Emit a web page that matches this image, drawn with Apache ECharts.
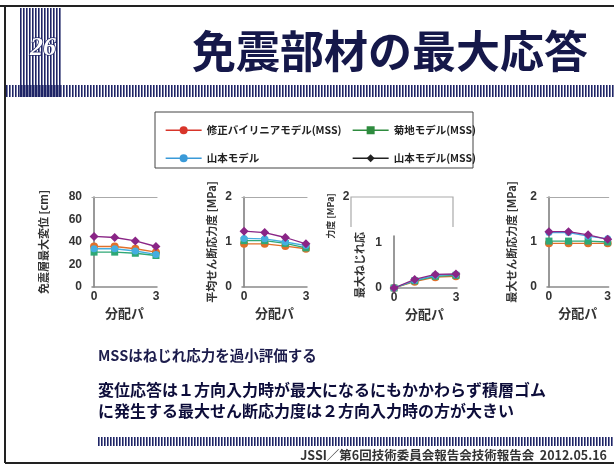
<!DOCTYPE html>
<html><head><meta charset="utf-8">
<script src="https://cdn.jsdelivr.net/npm/echarts@6/dist/echarts.min.js"></script>
<style>html,body{margin:0;padding:0;background:#fff}#c{width:614px;height:465px}</style>
</head><body><div id="c"></div>
<script>
// ---------- data ----------
const xValues = [0, 1, 2, 3];
const xTickLabels = [0, 3];
const seriesNames = ['修正バイリニアモデル(MSS)', '菊地モデル(MSS)', '山本モデル', '山本モデル(MSS)'];

// chart 1 : 免震層最大変位 [cm]
const disp_bilinearMSS = [36, 36, 34, 31];
const disp_kikuchiMSS  = [31, 31, 30, 28];
const disp_yamamoto    = [34, 34, 32, 29];
const disp_yamamotoMSS = [45, 44, 41, 36];
const disp_yTicks = [0, 20, 40, 60, 80];

// chart 2 : 平均せん断応力度 [MPa]
const avg_bilinearMSS = [0.96, 0.96, 0.91, 0.85];
const avg_kikuchiMSS  = [1.03, 1.03, 0.97, 0.87];
const avg_yamamoto    = [1.08, 1.07, 1.00, 0.92];
const avg_yamamotoMSS = [1.24, 1.21, 1.10, 0.96];
const avg_yTicks = [0, 1, 2];

// chart 3 : ねじれ応力度 [MPa]
const tor_bilinearMSS = [0, 0.14, 0.24, 0.26];
const tor_kikuchiMSS  = [0, 0.16, 0.26, 0.28];
const tor_yamamoto    = [0, 0.17, 0.28, 0.30];
const tor_yamamotoMSS = [0, 0.19, 0.30, 0.31];
const tor_yTicks = [0, 1];

// chart 4 : 最大せん断応力度 [MPa]
const max_bilinearMSS = [0.97, 0.97, 0.97, 0.97];
const max_kikuchiMSS  = [1.02, 1.02, 1.02, 1.00];
const max_yamamoto    = [1.21, 1.21, 1.13, 1.07];
const max_yamamotoMSS = [1.23, 1.23, 1.16, 1.06];
const max_yTicks = [0, 1, 2];

const yNames = ['免震層最大変位 [cm]', '平均せん断応力度 [MPa]', '', '最大せん断応力度 [MPa]'];
const xName = '分配パ';

// ---------- style ----------
const FONT = '"Liberation Sans","Noto Sans CJK JP",sans-serif';
const CJK = '"Noto Sans CJK JP","Liberation Sans",sans-serif';
const plotColors = ['#e0702a', '#2fa876', '#45aee0', '#8a2586'];
const legendColors = ['#d8352a', '#2e8b3e', '#3a9ad8', '#222222'];
const symbols = ['circle', 'rect', 'circle', 'diamond'];
const symbolSizes = [8, 7, 7, 9];

const grids = [
  {left: 92, top: 197, width: 65, height: 90},
  {left: 242, top: 197, width: 65, height: 90},
  {left: 392, top: 236, width: 65, height: 52},
  {left: 547, top: 197, width: 65, height: 90}
];
const yRanges = [
  {min: 0, max: 80, interval: 20, ticks: disp_yTicks},
  {min: 0, max: 2, interval: 1, ticks: avg_yTicks},
  {min: 0, max: 1.15, interval: 1, ticks: tor_yTicks},
  {min: 0, max: 2, interval: 1, ticks: max_yTicks}
];
const nameGaps = [43, 25, 0, 30];
const chartData = [
  [disp_bilinearMSS, disp_kikuchiMSS, disp_yamamoto, disp_yamamotoMSS],
  [avg_bilinearMSS, avg_kikuchiMSS, avg_yamamoto, avg_yamamotoMSS],
  [tor_bilinearMSS, tor_kikuchiMSS, tor_yamamoto, tor_yamamotoMSS],
  [max_bilinearMSS, max_kikuchiMSS, max_yamamoto, max_yamamotoMSS]
];

const xAxis = [], yAxis = [], series = [];
grids.forEach((g, i) => {
  xAxis.push({
    type: 'value', gridIndex: i, min: -0.1, max: 3.05,
    name: xName, nameLocation: 'middle', nameGap: 20,
    nameTextStyle: {fontFamily: CJK, fontSize: 13, fontWeight: 'bold', color: '#333'},
    axisLine: {show: true, lineStyle: {color: '#8a8a8a', width: 1.5}},
    axisTick: {show: false},
    splitLine: {show: false},
    axisLabel: {customValues: xTickLabels, fontFamily: FONT, fontSize: 12, fontWeight: 'bold', color: '#333', margin: 4}
  });
  if (i !== 2) {
    xAxis.push({
      type: 'value', gridIndex: i, position: 'top', min: 0, max: 1,
      axisLine: {show: true, lineStyle: {color: '#aaaaaa', width: 1.2}},
      axisTick: {show: false}, axisLabel: {show: false}, splitLine: {show: false}
    });
  }
  const r = yRanges[i];
  yAxis.push({
    type: 'value', gridIndex: i, min: r.min, max: r.max, interval: r.interval,
    name: yNames[i], nameLocation: 'middle', nameRotate: 90, nameGap: nameGaps[i],
    nameTextStyle: {fontFamily: CJK, fontSize: 11, fontWeight: 'bold', color: '#333'},
    axisLine: {show: true, lineStyle: {color: '#777', width: 1.5}},
    axisTick: {show: false},
    splitLine: {show: false},
    axisLabel: {customValues: r.ticks, fontFamily: FONT, fontSize: 12, fontWeight: 'bold', color: '#333', margin: 10}
  });
});

// index of x axis per grid (top axes interleaved)
const xIdx = [0, 2, 4, 5];
const drawOrder = [2, 1, 0, 3];
grids.forEach((g, i) => {
  drawOrder.forEach(k => {
    series.push({
      type: 'line', name: seriesNames[k], xAxisIndex: xIdx[i], yAxisIndex: i,
      data: xValues.map((x, j) => [x, chartData[i][k][j]]),
      symbol: symbols[k], symbolSize: symbolSizes[k],
      lineStyle: {color: plotColors[k], width: 1.3},
      itemStyle: {color: plotColors[k]},
      z: 2 + k, animation: false, silent: true
    });
  });
});

const legendPos = [[160, 120], [347, 120], [160, 148], [347, 148]];
const legend = seriesNames.map((n, k) => ({
  left: legendPos[k][0], top: legendPos[k][1],
  itemWidth: 36, itemHeight: 10, selectedMode: false,
  textStyle: {fontFamily: CJK, fontSize: 10.5, fontWeight: 'bold', color: '#222'},
  data: [{name: n, itemStyle: {color: legendColors[k]}, lineStyle: {color: legendColors[k], width: 1.3}}]
}));

// ---------- decorative graphics ----------
const graphic = [];
const STRIPE = '#1e2466';
function stripes(x0, x1, y0, y1, step, w) {
  for (let x = x0; x < x1; x += step) {
    graphic.push({type: 'rect', shape: {x: x, y: y0, width: w, height: y1 - y0}, style: {fill: STRIPE}, silent: true});
  }
}
stripes(20, 60, 8, 97, 3, 1.6);
stripes(6, 614, 85, 97, 3, 1.6);
stripes(98, 614, 437, 446, 3, 1.6);
// frame
graphic.push({type: 'line', shape: {x1: 0, y1: 6, x2: 614, y2: 6}, style: {stroke: '#222', lineWidth: 2}});
graphic.push({type: 'line', shape: {x1: 5, y1: 6, x2: 5, y2: 463}, style: {stroke: '#222', lineWidth: 2}});
graphic.push({type: 'line', shape: {x1: 5, y1: 463, x2: 614, y2: 463}, style: {stroke: '#222', lineWidth: 2}});
// page number
graphic.push({type: 'text', x: 43, y: 48, style: {text: '26', fill: '#fff', stroke: '#1e2466', lineWidth: 1.5,
  font: 'italic bold 26px "Liberation Serif", serif', align: 'center', verticalAlign: 'middle'}});
// title
graphic.push({type: 'text', x: 588, y: 51, style: {text: '免震部材の最大応答', fill: '#15184a',
  font: 'bold 44px "Noto Sans CJK JP"', align: 'right', verticalAlign: 'middle'}});
// legend box
graphic.push({type: 'rect', shape: {x: 155, y: 112, width: 318, height: 56}, style: {fill: 'none', stroke: '#444', lineWidth: 1}});
// chart 3 outer box + labels
graphic.push({type: 'polyline', shape: {points: [[351, 227], [351, 197], [453, 197], [453, 227]]}, style: {fill: 'none', stroke: '#aaa', lineWidth: 1.2}});
graphic.push({type: 'text', x: 346, y: 197, style: {text: '2', fill: '#333', font: 'bold 12px "Liberation Sans"', align: 'center', verticalAlign: 'middle'}});
graphic.push({type: 'text', x: 331, y: 216, rotation: Math.PI / 2, style: {text: '力度 [MPa]', fill: '#333',
  font: 'bold 9px "Noto Sans CJK JP"', align: 'center', verticalAlign: 'middle'}});
graphic.push({type: 'text', x: 360, y: 265, rotation: Math.PI / 2, style: {text: '最大ねじれ応', fill: '#333',
  font: 'bold 11px "Noto Sans CJK JP"', align: 'center', verticalAlign: 'middle'}});
// body text
graphic.push({type: 'text', x: 98, y: 355, style: {text: 'MSSはねじれ応力を過小評価する', fill: '#1c1c4c',
  font: 'bold 14.5px "Noto Sans CJK JP"', verticalAlign: 'middle'}});
graphic.push({type: 'text', x: 98, y: 390, style: {text: '変位応答は１方向入力時が最大になるにもかかわらず積層ゴム', fill: '#0d0d3a',
  font: 'bold 16px "Noto Sans CJK JP"', verticalAlign: 'middle'}});
graphic.push({type: 'text', x: 98, y: 411, style: {text: 'に発生する最大せん断応力度は２方向入力時の方が大きい', fill: '#0d0d3a',
  font: 'bold 16px "Noto Sans CJK JP"', verticalAlign: 'middle'}});
graphic.push({type: 'text', x: 607, y: 455, style: {text: 'JSSI／第6回技術委員会報告会技術報告会  2012.05.16', fill: '#333',
  font: 'bold 12.5px "Noto Sans CJK JP"', align: 'right', verticalAlign: 'middle'}});

const chart = echarts.init(document.getElementById('c'), null, {renderer: 'canvas'});
chart.setOption({
  backgroundColor: '#fff',
  animation: false,
  grid: grids,
  xAxis: xAxis,
  yAxis: yAxis,
  legend: legend,
  series: series,
  graphic: graphic
});
</script>
</body></html>
